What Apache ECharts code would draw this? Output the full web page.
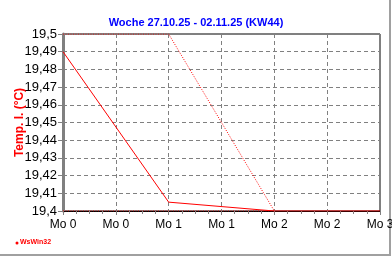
<!DOCTYPE html>
<html><head><meta charset="utf-8">
<script src="https://cdn.jsdelivr.net/npm/echarts@6/dist/echarts.min.js"></script>
<style>html,body{margin:0;padding:0;background:#fff}#c{width:392px;height:257px}</style>
</head><body><div id="c"></div>
<script>
var titleText = 'Woche 27.10.25 - 02.11.25 (KW44)';
var yName = 'Temp. I. (°C)';
var xTickLabels = ['Mo 0','Mo 0','Mo 1','Mo 1','Mo 2','Mo 2','Mo 3'];
var yTickLabels = ['19,4','19,41','19,42','19,43','19,44','19,45','19,46','19,47','19,48','19,49','19,5'];
var tempX = [0, 2, 4, 6];
var tempY = [19.49, 19.405, 19.40, 19.40];
var maxX = [0, 2, 4];
var maxY = [19.50, 19.50, 19.40];
var minX = [0, 2, 4];
var minY = [19.40, 19.40, 19.40];

function pairs(xs, ys){ return xs.map(function(x,i){return [x, ys[i]];}); }

var chart = echarts.init(document.getElementById('c'), null, {renderer:'canvas'});
chart.setOption({
  animation: false,
  backgroundColor: '#fff',
  title: {
    text: titleText, left: 'center', top: 12,
    textStyle: {color:'#0000ff', fontSize:11, fontWeight:'bold', fontFamily:'Liberation Sans'}
  },
  grid: {left:63, right:12, top:34, bottom:46, show:true, borderColor:'#000', borderWidth:1, backgroundColor:'transparent',
    containLabel:false, outerBoundsMode:'none'},
  xAxis: {
    type:'value', min:0, max:6, interval:1,
    axisLine:{show:true, lineStyle:{color:'#000', width:1}},
    axisTick:{show:true, length:4, lineStyle:{color:'#808080'}},
    minorTick:{show:true, splitNumber:4, length:3, lineStyle:{color:'#808080'}},
    axisLabel:{color:'#000', fontSize:12, fontFamily:'Liberation Sans', margin:8,
      formatter:function(v){ return xTickLabels[Math.round(v)]; }},
    splitLine:{show:true, lineStyle:{color:'#808080', type:[4,3], width:1}}
  },
  yAxis: {
    type:'value', min:19.4, max:19.5, interval:0.01,
    name: yName, nameLocation:'middle', nameGap:37, nameRotate:90, nameMoveOverlap:false,
    nameTextStyle:{color:'#ff0000', fontSize:12, fontWeight:'bold', fontFamily:'Liberation Sans'},
    axisLine:{show:true, lineStyle:{color:'#808080', width:3}},
    axisTick:{show:true, length:5, lineStyle:{color:'#808080'}},
    axisLabel:{color:'#000', fontSize:13, fontFamily:'Liberation Sans', margin:6,
      formatter:function(v){ return yTickLabels[Math.round((v-19.4)/0.01)]; }},
    splitLine:{show:true, lineStyle:{color:'#808080', type:[4,3], width:1}}
  },
  series: [
    {type:'line', data:pairs(maxX,maxY), symbol:'none', lineStyle:{color:'#ff0000', width:1, type:[1,1.5]}, z:3},
    {type:'line', data:pairs(minX,minY), symbol:'none', lineStyle:{color:'#ff0000', width:1, type:[1,1.5]}, z:3},
    {type:'line', data:pairs(tempX,tempY), symbol:'none', lineStyle:{color:'#ff0000', width:1}, z:4}
  ],
  graphic: [
    {type:'line', shape:{x1:390, y1:0, x2:390, y2:256}, style:{stroke:'#a0a0a0', lineWidth:2}},
    {type:'line', shape:{x1:0, y1:255, x2:391, y2:255}, style:{stroke:'#a0a0a0', lineWidth:2}},
    {type:'circle', shape:{cx:17, cy:243, r:1.5}, style:{fill:'#ff0000'}},
    {type:'text', left:20, top:239, style:{text:'WsWin32', fill:'#ff0000', font:'bold 7px Liberation Sans'}}
  ]
});
</script></body></html>
